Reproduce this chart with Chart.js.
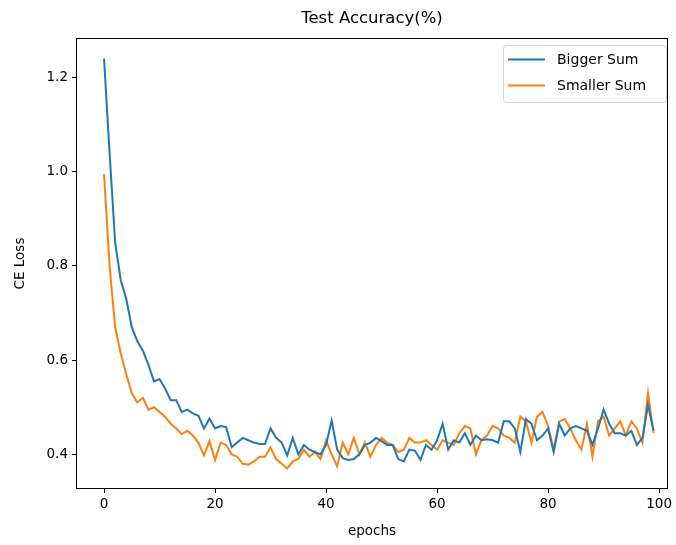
<!DOCTYPE html>
<html>
<head>
<meta charset="utf-8">
<script src="https://cdn.jsdelivr.net/npm/chart.js@4.4.1/dist/chart.umd.min.js"></script>
<style>
  html, body { margin: 0; padding: 0; background: #fff; }
  #wrap { width: 676px; height: 545px; }
</style>
</head>
<body>
<div id="wrap"><canvas id="lossChart" width="676" height="545"></canvas></div>
<script>
const epochs = Array.from({ length: 100 }, (_, i) => i);

const biggerSum = [
  1.24, 1.04, 0.85, 0.77, 0.73, 0.67, 0.64, 0.62, 0.59, 0.555,
  0.56, 0.54, 0.515, 0.515, 0.49, 0.495, 0.487, 0.482, 0.455, 0.476,
  0.455, 0.46, 0.458, 0.415, 0.425, 0.435, 0.43, 0.425, 0.422, 0.422,
  0.455, 0.435, 0.425, 0.398, 0.435, 0.40, 0.42, 0.41, 0.405, 0.40,
  0.42, 0.472, 0.41, 0.392, 0.388, 0.39, 0.40, 0.42, 0.425, 0.435,
  0.428, 0.42, 0.42, 0.39, 0.385, 0.41, 0.408, 0.388, 0.42, 0.41,
  0.43, 0.465, 0.41, 0.43, 0.425, 0.445, 0.42, 0.44, 0.43, 0.432,
  0.43, 0.425, 0.47, 0.47, 0.455, 0.405, 0.475, 0.465, 0.43, 0.44,
  0.455, 0.405, 0.465, 0.44, 0.455, 0.46, 0.455, 0.45, 0.42, 0.455,
  0.495, 0.465, 0.445, 0.445, 0.44, 0.45, 0.42, 0.435, 0.505, 0.45
];

const smallerSum = [
  0.995, 0.80, 0.67, 0.615, 0.57, 0.53, 0.51, 0.52, 0.495, 0.50,
  0.49, 0.48, 0.465, 0.455, 0.443, 0.45, 0.44, 0.425, 0.398, 0.428,
  0.388, 0.425, 0.42, 0.40, 0.395, 0.38, 0.378, 0.385, 0.395, 0.395,
  0.415, 0.39, 0.38, 0.37, 0.385, 0.39, 0.41, 0.395, 0.405, 0.39,
  0.43, 0.40, 0.375, 0.425, 0.40, 0.435, 0.40, 0.425, 0.395, 0.42,
  0.435, 0.425, 0.42, 0.405, 0.41, 0.435, 0.425, 0.425, 0.43, 0.42,
  0.41, 0.43, 0.425, 0.42, 0.445, 0.46, 0.455, 0.40, 0.43, 0.44,
  0.46, 0.455, 0.44, 0.435, 0.425, 0.48, 0.47, 0.425, 0.48, 0.49,
  0.46, 0.41, 0.47, 0.475, 0.455, 0.43, 0.41, 0.465, 0.395, 0.47,
  0.48, 0.44, 0.455, 0.47, 0.44, 0.47, 0.455, 0.425, 0.53, 0.445
];

const xTicks = [0, 20, 40, 60, 80, 100];
const yTicks = [0.4, 0.6, 0.8, 1.0, 1.2];

const FONT = "'DejaVu Sans', sans-serif";

// frame, title and legend drawn matplotlib-style
const mplDecor = {
  id: 'mplDecor',
  afterDraw(chart) {
    const { ctx, chartArea: a } = chart;
    ctx.save();
    ctx.strokeStyle = '#000';
    ctx.lineWidth = 1;
    ctx.strokeRect(a.left + 0.5, a.top + 0.5, a.right - a.left - 1, a.bottom - a.top - 1);

    ctx.fillStyle = '#000';
    ctx.font = '16.5px ' + FONT;
    ctx.textAlign = 'center';
    ctx.textBaseline = 'middle';
    ctx.fillText('Test Accuracy(%)', (a.left + a.right) / 2, 19);

    // legend box
    const bx = 503, by = 45, bw = 163, bh = 57;
    ctx.beginPath();
    ctx.roundRect(bx + 0.5, by + 0.5, bw, bh, 3);
    ctx.fillStyle = 'rgba(255,255,255,0.8)';
    ctx.fill();
    ctx.strokeStyle = '#d6d6d6';
    ctx.stroke();
    ctx.font = '14px ' + FONT;
    ctx.textAlign = 'left';
    chart.data.datasets.forEach((ds, i) => {
      const y = 59.5 + i * 26;
      ctx.strokeStyle = ds.borderColor;
      ctx.lineWidth = 2;
      ctx.beginPath();
      ctx.moveTo(508, y);
      ctx.lineTo(545, y);
      ctx.stroke();
      ctx.fillStyle = '#000';
      ctx.fillText(ds.label, 557, y + 0.5);
    });
    ctx.restore();
  }
};

new Chart(document.getElementById('lossChart'), {
  type: 'line',
  data: {
    datasets: [
      {
        label: 'Bigger Sum',
        data: epochs.map((e, i) => ({ x: e, y: biggerSum[i] })),
        borderColor: '#1f77b4',
        borderWidth: 2,
        pointRadius: 0,
        tension: 0,
        fill: false
      },
      {
        label: 'Smaller Sum',
        data: epochs.map((e, i) => ({ x: e, y: smallerSum[i] })),
        borderColor: '#ff7f0e',
        borderWidth: 2,
        pointRadius: 0,
        tension: 0,
        fill: false
      }
    ]
  },
  options: {
    responsive: false,
    animation: false,
    layout: { padding: { top: 38, right: 8, left: 0, bottom: 0 } },
    plugins: {
      legend: { display: false },
      title: { display: false },
      tooltip: { enabled: false }
    },
    scales: {
      x: {
        type: 'linear',
        min: -5.05,
        max: 101.6,
        afterBuildTicks: s => { s.ticks = xTicks.map(v => ({ value: v })); },
        afterFit: s => { s.height = 56; },
        grid: { drawOnChartArea: false, drawTicks: true, tickLength: 4, color: '#000', tickWidth: 1 },
        border: { display: false },
        ticks: { color: '#000', font: { family: FONT, size: 13.5 }, padding: 3, maxRotation: 0 },
        title: { display: true, text: 'epochs', color: '#000', font: { family: FONT, size: 13.5 }, padding: { top: 0, bottom: 5 } }
      },
      y: {
        min: 0.3265,
        max: 1.2835,
        afterBuildTicks: s => { s.ticks = yTicks.map(v => ({ value: v })); },
        afterFit: s => { s.width = 76; },
        grid: { drawOnChartArea: false, drawTicks: true, tickLength: 4, color: '#000', tickWidth: 1 },
        border: { display: false },
        ticks: { color: '#000', font: { family: FONT, size: 13.5 }, padding: 4, callback: v => v.toFixed(1) },
        title: { display: true, text: 'CE Loss', color: '#000', font: { family: FONT, size: 13.5 }, padding: { top: 12, bottom: 0 } }
      }
    }
  },
  plugins: [mplDecor]
});
</script>
</body>
</html>
